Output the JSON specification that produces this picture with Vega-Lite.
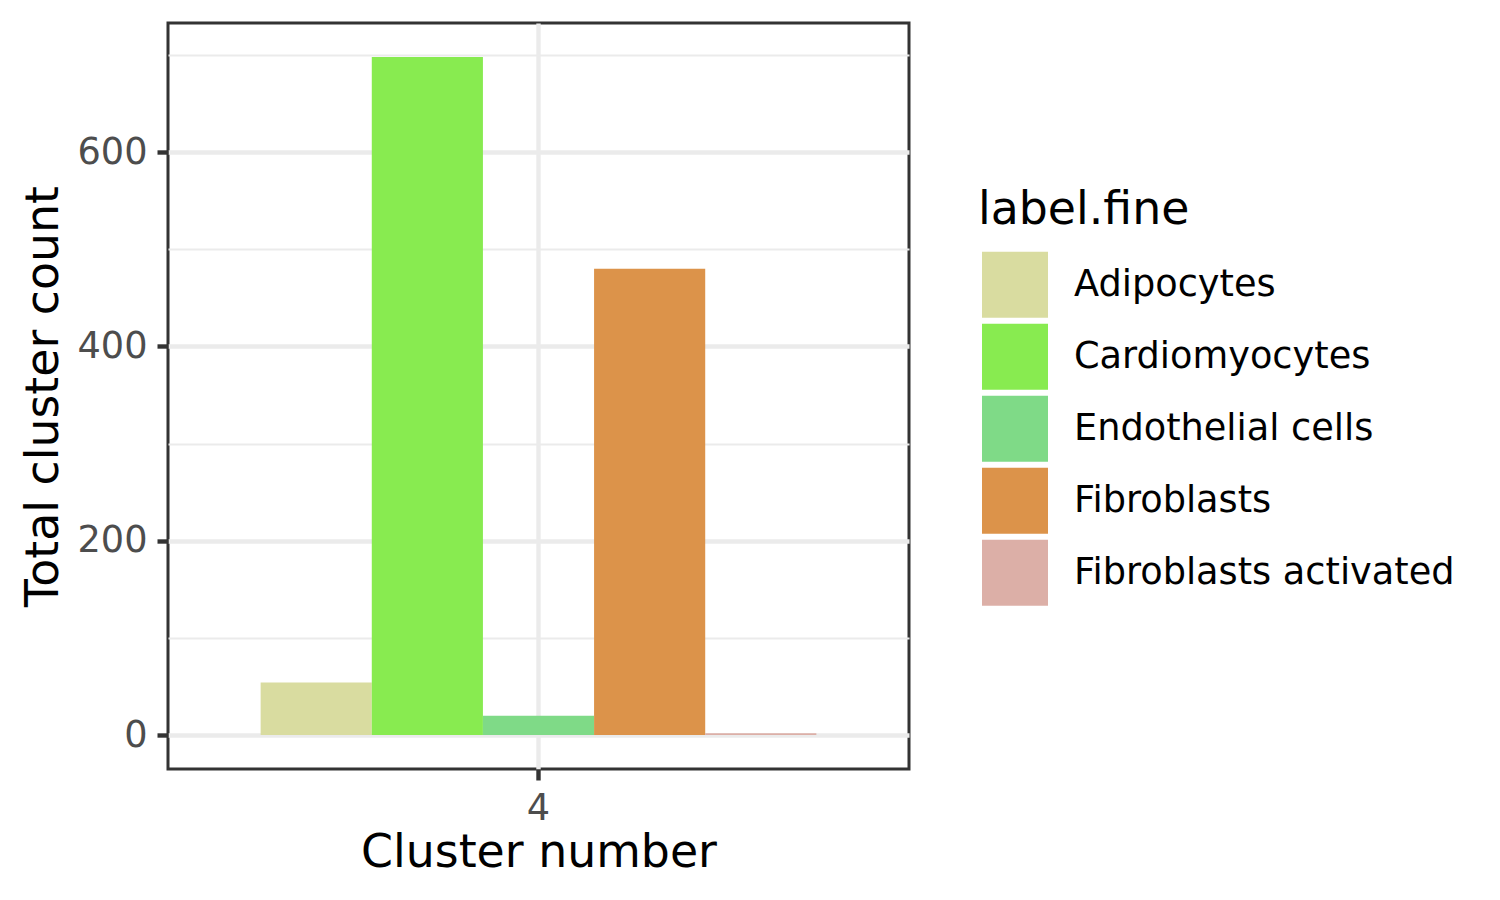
{
  "$schema": "https://vega.github.io/schema/vega-lite/v6.json",
  "autosize": "none",
  "width": 741,
  "height": 746,
  "padding": {"left": 168, "top": 23, "right": 591, "bottom": 131},
  "background": "white",
  "config": {
    "font": "DejaVu Sans",
    "view": {"stroke": "#333333", "strokeWidth": 3}
  },
  "data": {
    "values": [
      {"cluster": "4", "label": "Adipocytes", "count": 54},
      {"cluster": "4", "label": "Cardiomyocytes", "count": 698},
      {"cluster": "4", "label": "Endothelial cells", "count": 20},
      {"cluster": "4", "label": "Fibroblasts", "count": 480},
      {"cluster": "4", "label": "Fibroblasts activated", "count": 2}
    ]
  },
  "mark": {"type": "bar"},
  "encoding": {
    "x": {
      "field": "cluster",
      "type": "nominal",
      "title": "Cluster number",
      "scale": {"paddingInner": 0, "paddingOuter": 0.1667},
      "axis": {
        "labelAngle": 0,
        "domain": false,
        "grid": true,
        "bandPosition": 0.5,
        "gridColor": "#ebebeb",
        "gridWidth": 4.4,
        "tickSize": 11,
        "tickWidth": 4.4,
        "tickColor": "#333333",
        "labelFontSize": 36.7,
        "labelColor": "#4d4d4d",
        "labelPadding": 10,
        "titleFontSize": 45.8,
        "titleFontWeight": "normal",
        "titleColor": "black",
        "titlePadding": 4
      }
    },
    "xOffset": {
      "field": "label",
      "type": "nominal",
      "sort": ["Adipocytes", "Cardiomyocytes", "Endothelial cells", "Fibroblasts", "Fibroblasts activated"],
      "scale": {"paddingInner": 0, "paddingOuter": 0}
    },
    "y": {
      "field": "count",
      "type": "quantitative",
      "title": "Total cluster count",
      "scale": {"domain": [-34.9, 732.9], "nice": false, "zero": false},
      "axis": {
        "values": [0, 100, 200, 300, 400, 500, 600, 700],
        "labelExpr": "datum.value % 200 === 0 ? datum.label : ''",
        "domain": false,
        "grid": true,
        "gridColor": "#ebebeb",
        "gridWidth": {"condition": {"test": "datum.value % 200 === 0", "value": 4.4}, "value": 2.2},
        "tickOpacity": {"condition": {"test": "datum.value % 200 === 0", "value": 1}, "value": 0},
        "tickSize": 11,
        "tickWidth": 4.4,
        "tickColor": "#333333",
        "labelFontSize": 36.7,
        "labelColor": "#4d4d4d",
        "labelPadding": 10,
        "titleFontSize": 45.8,
        "titleFontWeight": "normal",
        "titleColor": "black",
        "titlePadding": 9
      }
    },
    "y2": {"datum": 0},
    "color": {
      "field": "label",
      "type": "nominal",
      "title": "label.fine",
      "scale": {
        "domain": ["Adipocytes", "Cardiomyocytes", "Endothelial cells", "Fibroblasts", "Fibroblasts activated"],
        "range": ["#d9dca0", "#88eb50", "#7fda87", "#dc934a", "#dcafa7"]
      },
      "legend": {
        "orient": "none",
        "legendX": 810,
        "legendY": 165,
        "padding": 0,
        "titleFontSize": 45.8,
        "titleFontWeight": "normal",
        "titleColor": "black",
        "titlePadding": 18,
        "titleLimit": 600,
        "labelFontSize": 36.7,
        "labelColor": "black",
        "labelLimit": 600,
        "symbolType": "square",
        "symbolSize": 4356,
        "symbolStrokeWidth": 0,
        "symbolOpacity": 1,
        "symbolOffset": 4,
        "rowPadding": 6,
        "labelOffset": 26
      }
    }
  }
}
